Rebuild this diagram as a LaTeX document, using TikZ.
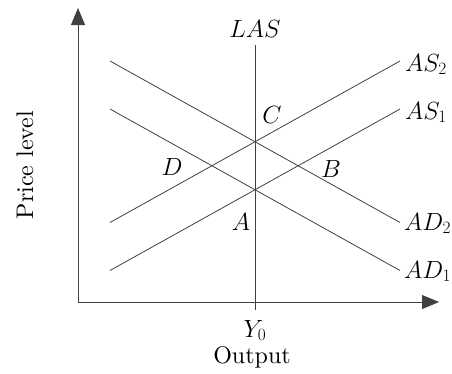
\documentclass[tikz,border=0pt]{standalone}
\usepackage{fontspec}
\setmainfont{lmroman10-regular.otf}[ItalicFont=lmroman10-italic.otf]
\usetikzlibrary{arrows.meta,positioning}
\begin{document}
\begin{tikzpicture}[x=1pt, y=-1pt,
        every node/.style={font=\fontsize{24}{28}\selectfont, inner sep=1pt},
        eje/.style={-{Triangle[length=17pt, width=14pt]}, line width=0.8pt, black!75},
        curva/.style={line width=0.8pt, black!75}
    ]
    \useasboundingbox (0,0) rectangle (452,373);

    % axes
    \coordinate (O) at (78,302);
    \coordinate (ytop) at (78,8);
    \coordinate (xend) at (439,302);
    \draw [eje] (O) -- (ytop);
    \draw [eje] (O) -- (xend);
    \node (pl) [rotate=90, anchor=base] at (33,165) {Price level};

    % long-run supply
    \node (las) [anchor=base] at (255,37) {$LAS$};
    \coordinate (lastop) at (255,45);
    \coordinate (lasbot) at (255,310);
    \draw [curva] (lastop) -- (lasbot);
    \node (y0) [anchor=base] at (255,337) {$Y_0$};
    \node (out) [below=3.5pt of y0, xshift=-3pt] {Output};

    % supply and demand lines
    \coordinate (as2a) at (110,222.5);  \coordinate (as2b) at (400,61);
    \coordinate (as1a) at (110,270.5);  \coordinate (as1b) at (400,109);
    \coordinate (ad2a) at (110,61);     \coordinate (ad2b) at (400,222.5);
    \coordinate (ad1a) at (110,109);    \coordinate (ad1b) at (400,270.5);
    \draw [curva] (as2a) -- (as2b);
    \draw [curva] (as1a) -- (as1b);
    \draw [curva] (ad2a) -- (ad2b);
    \draw [curva] (ad1a) -- (ad1b);
    \node (as2) [anchor=base west] at (404,71) {$AS_2$};
    \node (as1) [anchor=base west] at (404,119) {$AS_1$};
    \node (ad2) [anchor=base west] at (403,230) {$AD_2$};
    \node (ad1) [anchor=base west] at (403,278) {$AD_1$};

    % equilibrium points
    \node (c) [anchor=base] at (272,123) {$C$};
    \node (b) [anchor=base] at (331,177) {$B$};
    \node (d) [anchor=base] at (172,175) {$D$};
    \node (a) [anchor=base] at (241,230) {$A$};
\end{tikzpicture}
\end{document}
